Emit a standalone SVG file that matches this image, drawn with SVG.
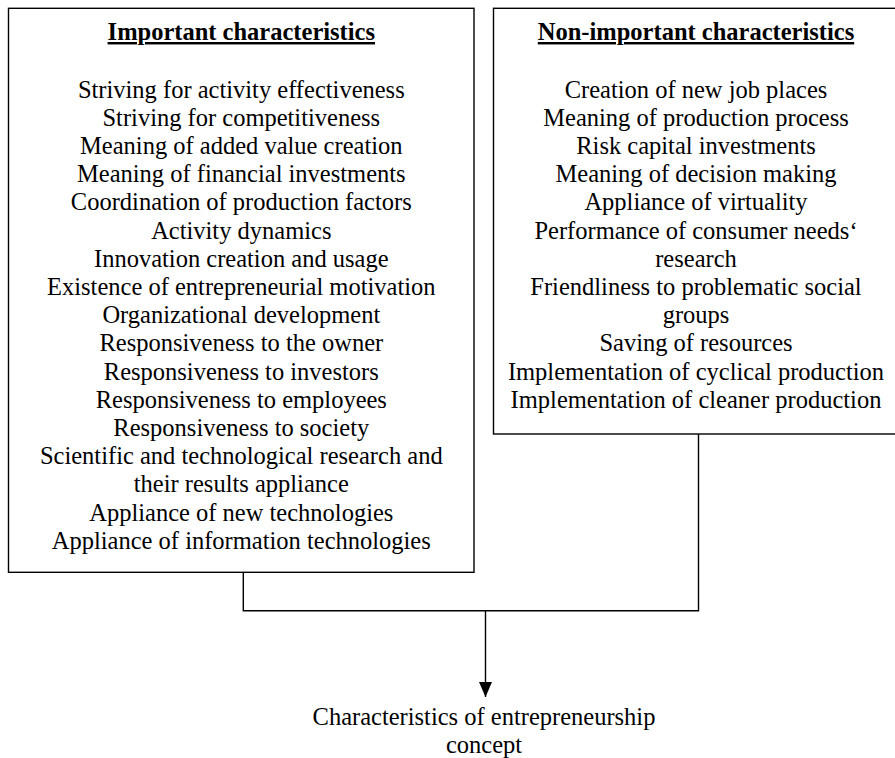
<svg xmlns="http://www.w3.org/2000/svg" width="895" height="758" viewBox="0 0 895 758">
<defs>
<style>
text{font-family:"Liberation Serif","Times New Roman",serif;font-size:24.5px;fill:#000;text-anchor:middle}
.title{font-weight:bold;text-decoration:underline}
.box{fill:#fff;stroke:#000;stroke-width:1.4}
.conn{fill:none;stroke:#000;stroke-width:1.4}
</style>
<marker id="arrow" markerWidth="15" markerHeight="13" refX="15" refY="6.5" orient="auto" markerUnits="userSpaceOnUse">
<path d="M0,0 L15,6.5 L0,13 Z" fill="#000"/>
</marker>
</defs>
<rect width="895" height="758" fill="#fff"/>
<g id="connectors">
<path class="conn" d="M243.3,572 V610.7 H698.5 V434"/>
<path class="conn" d="M485.5,610.7 V697" marker-end="url(#arrow)"/>
</g>
<g id="important">
<rect class="box" x="8.5" y="8.3" width="465.5" height="564"/>
<text class="title" x="241.3" y="40">Important characteristics</text>
<text x="241.3" y="97.5">Striving for activity effectiveness</text>
<text x="241.3" y="125.7">Striving for competitiveness</text>
<text x="241.3" y="153.9">Meaning of added value creation</text>
<text x="241.3" y="182.1">Meaning of financial investments</text>
<text x="241.3" y="210.3">Coordination of production factors</text>
<text x="241.3" y="238.5">Activity dynamics</text>
<text x="241.3" y="266.7">Innovation creation and usage</text>
<text x="241.3" y="294.9">Existence of entrepreneurial motivation</text>
<text x="241.3" y="323.1">Organizational development</text>
<text x="241.3" y="351.3">Responsiveness to the owner</text>
<text x="241.3" y="379.5">Responsiveness to investors</text>
<text x="241.3" y="407.7">Responsiveness to employees</text>
<text x="241.3" y="435.9">Responsiveness to society</text>
<text x="241.3" y="464.1">Scientific and technological research and</text>
<text x="241.3" y="492.3">their results appliance</text>
<text x="241.3" y="520.5">Appliance of new technologies</text>
<text x="241.3" y="548.7">Appliance of information technologies</text>
</g>
<g id="non-important">
<rect class="box" x="493.5" y="8.3" width="405" height="425.7"/>
<text class="title" x="696" y="40">Non-important characteristics</text>
<text x="696" y="97.5">Creation of new job places</text>
<text x="696" y="125.7">Meaning of production process</text>
<text x="696" y="153.9">Risk capital investments</text>
<text x="696" y="182.1">Meaning of decision making</text>
<text x="696" y="210.3">Appliance of virtuality</text>
<text x="696" y="238.5">Performance of consumer needs‘</text>
<text x="696" y="266.7">research</text>
<text x="696" y="294.9">Friendliness to problematic social</text>
<text x="696" y="323.1">groups</text>
<text x="696" y="351.3">Saving of resources</text>
<text x="696" y="379.5">Implementation of cyclical production</text>
<text x="696" y="407.7">Implementation of cleaner production</text>
</g>
<g id="concept">
<text x="484" y="725">Characteristics of entrepreneurship</text>
<text x="484" y="753">concept</text>
</g>
</svg>
